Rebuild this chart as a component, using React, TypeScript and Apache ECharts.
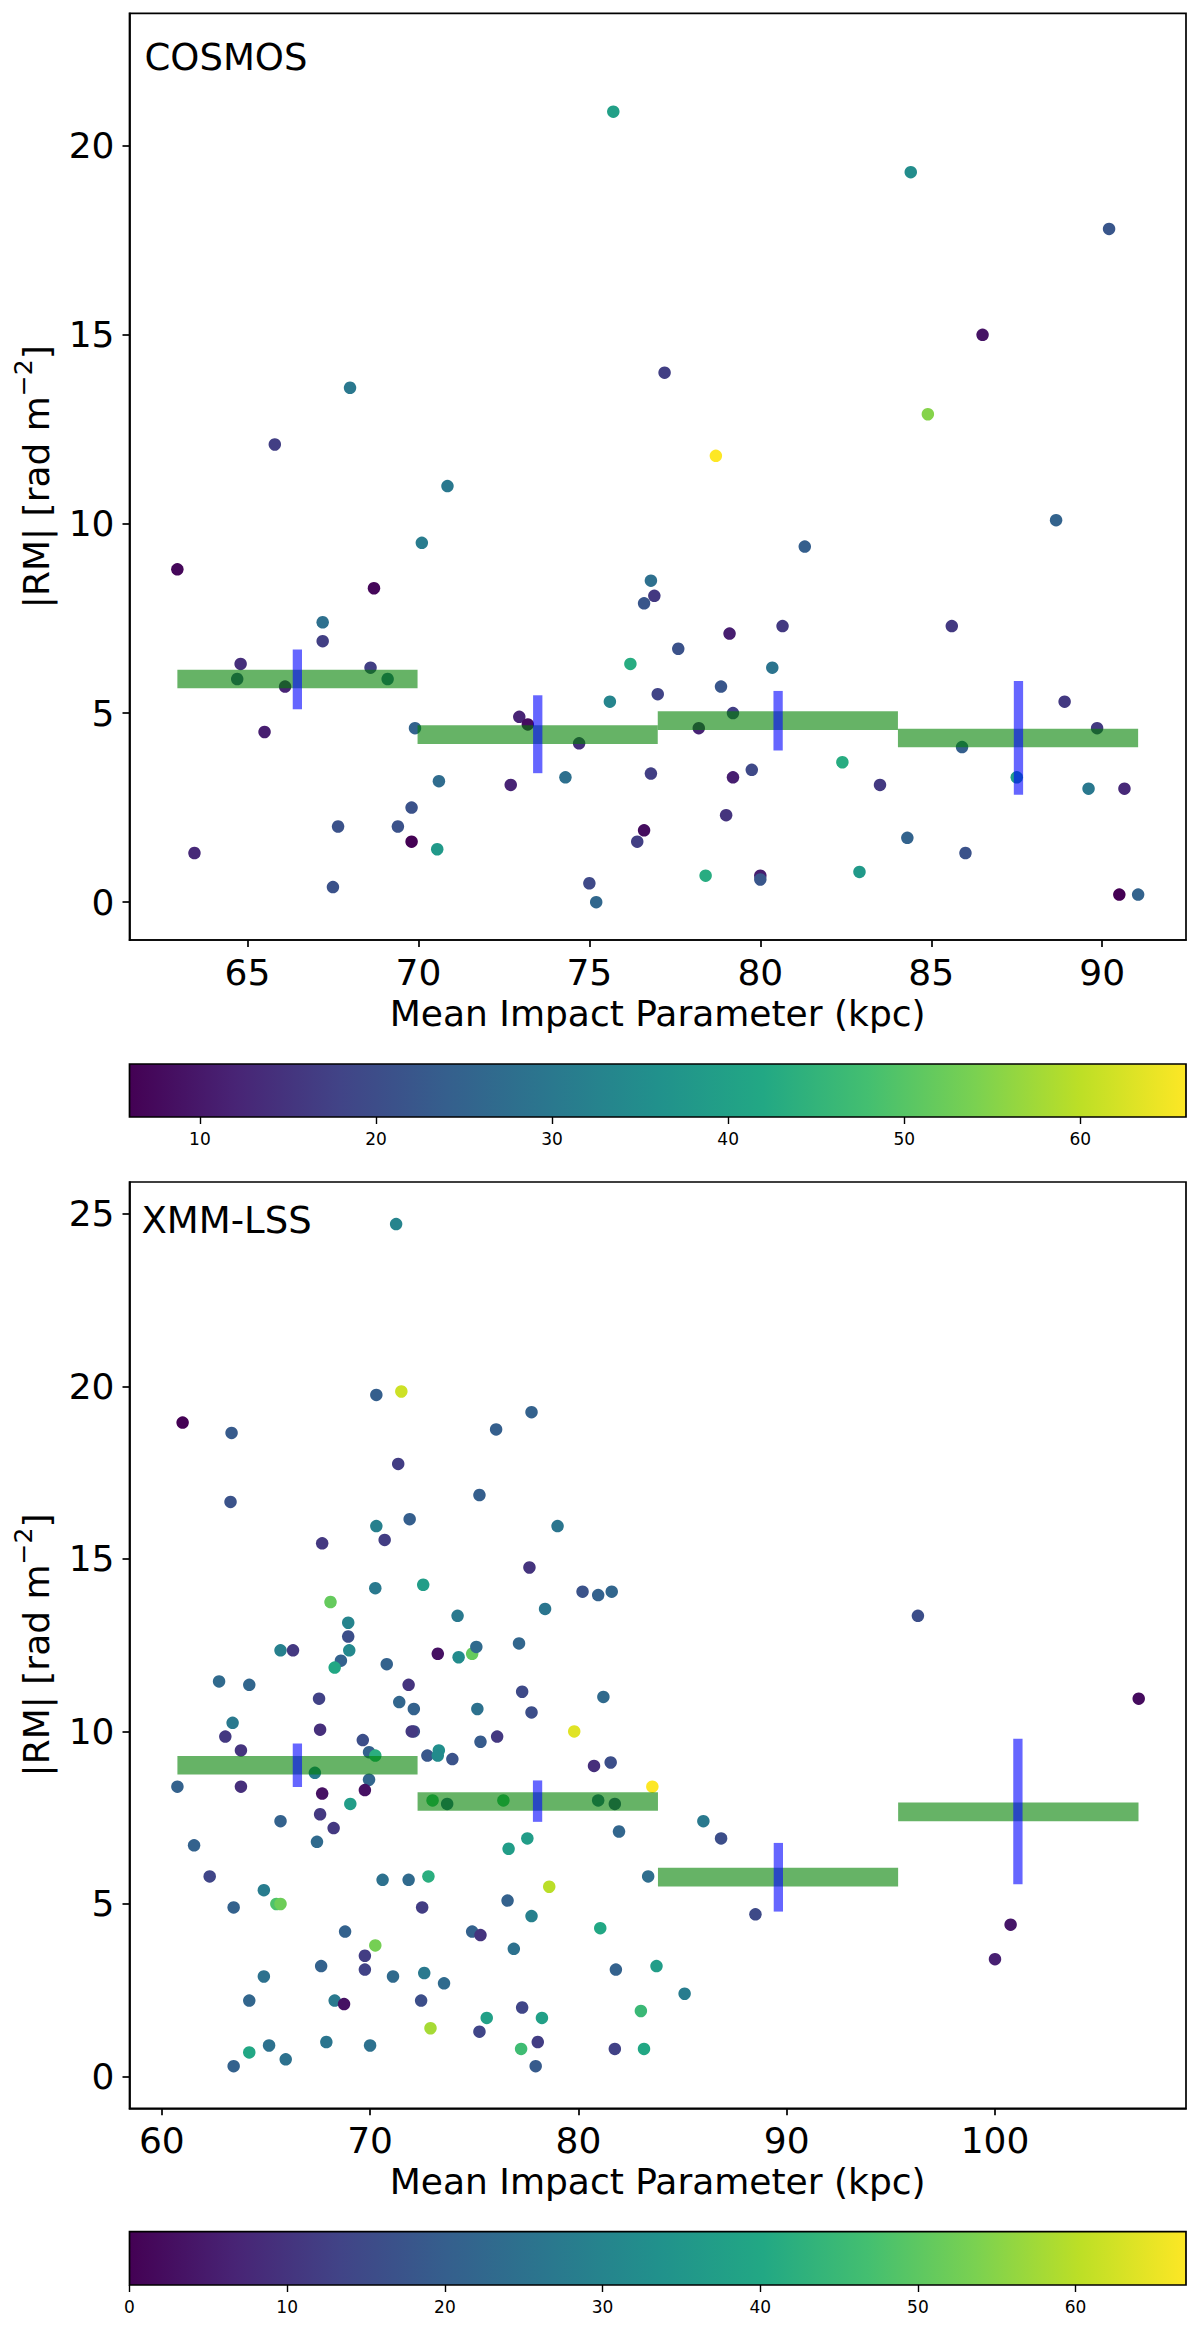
import { useEffect, useRef } from 'react';
import * as echarts from 'echarts';

const FONT = 'DejaVu Sans';

const viridis = [
  '#440154', '#482475', '#414487', '#355f8d', '#2a788e', '#21918c',
  '#22a884', '#44bf70', '#7ad151', '#bddf26', '#fde725',
];

// COSMOS points: impact parameter, |RM|, colour value
const cosmosX = [
  68.0, 65.8, 70.85, 75.7, 84.4, 90.2, 86.5, 77.2, 84.9, 78.7,
  70.1, 62.95, 68.7, 67.2, 67.2, 64.8, 64.7, 66.1, 68.6, 69.1,
  65.5, 69.9, 70.6, 69.8, 69.4, 69.8, 70.55, 67.65, 67.5, 63.45,
  72.95, 73.2, 74.7, 72.7, 74.3, 75.6, 76.2, 76.8, 76.9, 76.6,
  77.0, 76.8, 76.6, 76.4, 75.0, 75.2, 88.65, 81.3, 79.1, 80.65,
  85.6, 77.6, 80.35, 78.85, 79.2, 78.2, 79.2, 79.75, 79.0, 82.4,
  83.5, 85.9, 87.5, 88.9, 89.85, 89.6, 90.65, 84.3, 86.0, 82.9,
  78.4, 80.0, 80.0, 90.5, 91.05,
];
const cosmosRM = [
  13.6, 12.1, 11.0, 20.9, 19.3, 17.8, 15.0, 14.0, 12.9, 11.8,
  9.5, 8.8, 8.3, 7.4, 6.9, 6.3, 5.9, 5.7, 6.2, 5.9,
  4.5, 4.6, 3.2, 2.5, 2.0, 1.6, 1.4, 2.0, 0.4, 1.3,
  4.9, 4.7, 4.2, 3.1, 3.3, 5.3, 6.3, 8.5, 8.1, 7.9,
  5.5, 3.4, 1.9, 1.6, 0.5, 0.0, 10.1, 9.4, 7.1, 7.3,
  7.3, 6.7, 6.2, 5.7, 5.0, 4.6, 3.3, 3.5, 2.3, 3.7,
  3.1, 4.1, 3.3, 5.3, 4.6, 3.0, 3.0, 1.7, 1.3, 0.8,
  0.7, 0.7, 0.6, 0.2, 0.2,
];
const cosmosC = [
  30, 17, 30, 40, 35, 22, 9, 17, 55, 66,
  31, 7, 7, 28, 17, 14, 20, 12, 17, 25,
  11, 25, 27, 21, 21, 6, 38, 21, 21, 13,
  12, 8, 14, 12, 28, 33, 43, 28, 16, 22,
  18, 17, 8, 17, 19, 26, 25, 24, 11, 16,
  16, 21, 29, 22, 17, 12, 11, 19, 15, 43,
  16, 24, 40, 16, 16, 30, 13, 25, 21, 38,
  43, 11, 22, 6, 25,
];
const cosmosBinEdges = [62.95, 69.975, 77.0, 84.025, 91.05];
const cosmosBinRM = [5.9, 4.43, 4.8, 4.34];
const cosmosMeanX = [66.46, 73.49, 80.52, 87.55];
const cosmosErrLo = [5.1, 3.41, 4.01, 2.84];
const cosmosErrHi = [6.68, 5.47, 5.585, 5.85];

// XMM-LSS points
const xmmX = [
  71.25, 70.3, 71.5, 61.0, 63.35, 76.05, 71.35, 63.3, 75.25, 71.9,
  70.3, 70.7, 67.7, 70.25, 72.55, 68.1, 74.2, 68.95, 68.95, 65.7,
  66.3, 69.0, 68.6, 68.3, 73.25, 74.25, 74.9, 75.1, 77.15, 70.8,
  62.75, 64.2, 71.85, 67.55, 71.4, 72.1, 75.15, 77.3, 63.4, 63.05,
  67.6, 72.1, 72.0, 76.1, 63.8, 69.65, 75.3, 69.95, 70.25, 72.75,
  73.3, 73.25, 73.95, 60.75, 63.8, 67.35, 69.95, 67.7, 69.75, 69.05,
  73.0, 73.7, 76.4, 67.6, 68.25, 65.7, 61.55, 67.45, 76.65, 62.3,
  70.6, 71.85, 72.8, 64.9, 65.5, 65.7, 63.45, 72.5, 76.6,
  77.75, 79.0, 77.65, 80.2, 80.95, 81.6, 78.4, 77.75, 81.2, 79.8,
  80.75, 81.55, 83.55, 80.95, 81.75, 81.95, 86.0, 86.85, 77.55, 83.35,
  78.6, 77.75, 88.5, 96.3, 106.9,
  100.75, 100.0, 68.8, 70.25, 74.9, 75.3, 81.05, 76.9, 69.75, 67.65,
  69.75, 71.1, 72.6, 73.55, 64.9, 64.2, 68.3, 68.75, 72.45, 77.3,
  85.1, 83.0, 75.6, 78.25, 72.9, 75.25, 65.15, 64.2, 67.9, 70.0,
  65.95, 63.45, 77.25, 78.05, 77.95, 81.75, 83.15, 83.75, 81.8,
];
const xmmRM = [
  24.7, 19.75, 19.85, 18.95, 18.65, 18.75, 17.75, 16.65, 16.85, 16.15,
  15.95, 15.55, 15.45, 14.15, 14.25, 13.75, 13.35, 13.15, 12.75, 12.35,
  12.35, 12.35, 12.05, 11.85, 12.25, 12.15, 12.25, 12.45, 12.55, 11.95,
  11.45, 11.35, 11.35, 10.95, 10.85, 10.65, 10.65, 11.15, 10.25, 9.85,
  10.05, 10.0, 10.0, 9.85, 9.45, 9.75, 9.7, 9.4, 9.3, 9.3,
  9.45, 9.3, 9.2, 8.4, 8.4, 8.8, 8.6, 8.2, 8.3, 7.9,
  8.0, 7.9, 8.0, 7.6, 7.2, 7.4, 6.7, 6.8, 6.6, 5.8,
  5.7, 5.7, 5.8, 5.4, 5.0, 5.0, 4.9, 4.9, 5.1,
  19.25, 15.95, 14.75, 14.05, 13.95, 14.05, 13.55, 10.55, 11.0, 10.0,
  9.0, 9.1, 8.4, 8.0, 7.9, 7.1, 7.4, 6.9, 6.9, 5.8,
  5.5, 4.65, 4.7, 13.35, 10.95,
  4.4, 3.4, 4.2, 3.8, 4.2, 4.1, 4.3, 3.7, 3.5, 3.2,
  3.1, 2.9, 3.0, 2.7, 2.9, 2.2, 2.2, 2.1, 2.2, 2.0,
  2.4, 1.9, 1.7, 1.7, 1.4, 1.3, 0.9, 0.7, 1.0, 0.9,
  0.5, 0.3, 0.8, 1.0, 0.3, 0.8, 0.8, 3.2, 3.1,
];
const xmmC = [
  30, 20, 62, 0, 19, 20, 12, 17, 20, 20,
  29, 12, 11, 27, 37, 51, 27, 30, 16, 29,
  11, 31, 21, 40, 3, 32, 51, 23, 22, 21,
  23, 22, 10, 13, 22, 21, 25, 15, 27, 11,
  9, 15, 11, 11, 10, 16, 19, 21, 42, 18,
  33, 32, 17, 21, 9, 28, 22, 3, 3, 37,
  45, 20, 45, 11, 11, 21, 21, 23, 37, 14,
  25, 23, 42, 28, 48, 52, 21, 12, 21,
  21, 26, 10, 17, 21, 22, 26, 16, 23, 64,
  9, 16, 67, 20, 15, 22, 27, 16, 37, 24,
  60, 29, 15, 16, 2,
  4, 6, 21, 53, 21, 10, 40, 25, 12, 21,
  13, 23, 27, 23, 25, 22, 27, 3, 16, 14,
  28, 45, 38, 38, 58, 14, 25, 40, 26, 25,
  25, 21, 46, 12, 19, 13, 40, 37, 21,
];
const xmmBinEdges = [60.75, 72.28, 83.82, 95.35, 106.89];
const xmmBinRM = [9.02, 7.97, 5.78, 7.67];
const xmmMeanX = [66.51, 78.04, 89.6, 101.1];
const xmmErrLo = [8.39, 7.38, 4.78, 5.57];
const xmmErrHi = [9.65, 8.58, 6.77, 9.79];

// tick labels
const cosmosXTicks = [65, 70, 75, 80, 85, 90];
const cosmosYTicks = [0, 5, 10, 15, 20];
const cosmosCbarTicks = [10, 20, 30, 40, 50, 60];
const xmmXTicks = [60, 70, 80, 90, 100];
const xmmYTicks = [0, 5, 10, 15, 20, 25];
const xmmCbarTicks = [0, 10, 20, 30, 40, 50, 60];

const GRID_LEFT = 129.5;
const GRID_W = 1056.5;

export default function App() {
  const chartRef = useRef<HTMLDivElement>(null);

  useEffect(() => {
    document.body.style.margin = '0';
    if (!chartRef.current) return;
    const chart = echarts.init(chartRef.current, null, { renderer: 'svg' });

    const mainX = (idx: number, min: number, max: number, ticks: number[]) => ({
      type: 'value',
      gridIndex: idx,
      min,
      max,
      axisLine: { show: true, onZero: false, lineStyle: { color: '#000', width: 1.7 } },
      axisTick: { show: true, customValues: ticks, length: 7, lineStyle: { color: '#000', width: 1.7 } },
      axisLabel: { customValues: ticks, color: '#000', fontSize: 36, fontFamily: FONT, margin: 14 },
      splitLine: { show: false },
    });
    const mainY = (idx: number, min: number, max: number, ticks: number[]) => ({
      type: 'value',
      gridIndex: idx,
      min,
      max,
      axisLine: { show: true, onZero: false, lineStyle: { color: '#000', width: 1.7 } },
      axisTick: { show: true, customValues: ticks, length: 7, lineStyle: { color: '#000', width: 1.7 } },
      axisLabel: { customValues: ticks, color: '#000', fontSize: 36, fontFamily: FONT, margin: 15 },
      splitLine: { show: false },
    });
    const cbarX = (idx: number, min: number, max: number, ticks: number[]) => ({
      type: 'value',
      gridIndex: idx,
      min,
      max,
      axisLine: { show: false, onZero: false },
      axisTick: { show: true, customValues: ticks, length: 7, lineStyle: { color: '#000', width: 1.4 } },
      axisLabel: { customValues: ticks, color: '#000', fontSize: 17, fontFamily: FONT, margin: 13 },
      splitLine: { show: false },
    });
    const cbarY = (idx: number) => ({
      type: 'value',
      gridIndex: idx,
      min: 0,
      max: 1,
      show: false,
    });

    const binItem = (edges: number[], rm: number[]) =>
      rm.map((v, i) => [edges[i], edges[i + 1], v]);
    const errItem = (xs: number[], lo: number[], hi: number[]) =>
      xs.map((x, i) => [x, lo[i], hi[i]]);

    const binSeries = (idx: number, data: number[][]) => ({
      type: 'custom',
      xAxisIndex: idx,
      yAxisIndex: idx,
      z: 3,
      encode: { x: [0, 1], y: 2 },
      data,
      renderItem: (_p: any, api: any) => {
        const a = api.coord([api.value(0), api.value(2)]);
        const b = api.coord([api.value(1), api.value(2)]);
        return {
          type: 'rect',
          shape: { x: a[0], y: a[1] - 9.35, width: b[0] - a[0], height: 18.7 },
          style: { fill: 'rgba(0,128,0,0.6)' },
        };
      },
    });
    const errSeries = (idx: number, data: number[][]) => ({
      type: 'custom',
      xAxisIndex: idx,
      yAxisIndex: idx,
      z: 4,
      encode: { x: 0, y: [1, 2] },
      data,
      renderItem: (_p: any, api: any) => {
        const top = api.coord([api.value(0), api.value(2)]);
        const bot = api.coord([api.value(0), api.value(1)]);
        return {
          type: 'rect',
          shape: { x: top[0] - 4.65, y: top[1], width: 9.3, height: bot[1] - top[1] },
          style: { fill: 'rgba(0,0,255,0.6)' },
        };
      },
    });
    const cbarSeries = (idx: number, min: number, max: number) => ({
      type: 'custom',
      xAxisIndex: idx,
      yAxisIndex: idx,
      z: 1,
      data: [[min, max]],
      renderItem: (_p: any, api: any) => {
        const a = api.coord([api.value(0), 1]);
        const b = api.coord([api.value(1), 0]);
        return {
          type: 'rect',
          shape: { x: a[0], y: a[1], width: b[0] - a[0], height: b[1] - a[1] },
          style: {
            fill: new echarts.graphic.LinearGradient(
              0, 0, 1, 0,
              viridis.map((c, i) => ({ offset: i / (viridis.length - 1), color: c }))
            ),
          },
        };
      },
    });

    const textStyle = { fill: '#000', fontFamily: FONT };
    // y title with a raised, smaller exponent
    const yTitle = (y: number) => ({
      type: 'text',
      x: 36,
      y,
      rotation: Math.PI / 2,
      style: {
        ...textStyle,
        text: '{n||RM| [rad m}{sup|−2}{n|]}',
        fontSize: 36,
        textAlign: 'center',
        textVerticalAlign: 'middle',
        rich: {
          n: { fontSize: 36, lineHeight: 50, fontFamily: FONT, fill: '#000' },
          sup: { fontSize: 25, lineHeight: 26, verticalAlign: 'top', fontFamily: FONT, fill: '#000' },
        },
      },
    });

    const option = {
      animation: false,
      backgroundColor: '#fff',
      grid: [
        { left: GRID_LEFT, top: 13.3, width: GRID_W, height: 926.7, show: true, borderColor: '#000', borderWidth: 1.7 },
        { left: GRID_LEFT, top: 1064, width: GRID_W, height: 53, show: true, borderColor: '#000', borderWidth: 1.7, z: 5 },
        { left: GRID_LEFT, top: 1182, width: GRID_W, height: 926.3, show: true, borderColor: '#000', borderWidth: 1.7 },
        { left: GRID_LEFT, top: 2231.7, width: GRID_W, height: 53.3, show: true, borderColor: '#000', borderWidth: 1.7, z: 5 },
      ],
      xAxis: [
        mainX(0, 61.55, 92.45, cosmosXTicks),
        cbarX(1, 6, 66, cosmosCbarTicks),
        mainX(2, 58.45, 109.17, xmmXTicks),
        cbarX(3, 0, 67, xmmCbarTicks),
      ],
      yAxis: [
        mainY(0, -1, 23.5, cosmosYTicks),
        cbarY(1),
        mainY(2, -0.92, 25.92, xmmYTicks),
        cbarY(3),
      ],
      visualMap: [
        { type: 'continuous', show: false, seriesIndex: 0, dimension: 2, min: 6, max: 66, inRange: { color: viridis } },
        { type: 'continuous', show: false, seriesIndex: 3, dimension: 2, min: 0, max: 67, inRange: { color: viridis } },
      ],
      series: [
        {
          type: 'scatter',
          xAxisIndex: 0,
          yAxisIndex: 0,
          z: 2,
          symbolSize: 12.5,
          itemStyle: { opacity: 1, borderWidth: 0 },
          data: cosmosX.map((x, i) => [x, cosmosRM[i], cosmosC[i]]),
        },
        binSeries(0, binItem(cosmosBinEdges, cosmosBinRM)),
        errSeries(0, errItem(cosmosMeanX, cosmosErrLo, cosmosErrHi)),
        {
          type: 'scatter',
          xAxisIndex: 2,
          yAxisIndex: 2,
          z: 2,
          symbolSize: 12.5,
          itemStyle: { opacity: 1, borderWidth: 0 },
          data: xmmX.map((x, i) => [x, xmmRM[i], xmmC[i]]),
        },
        binSeries(2, binItem(xmmBinEdges, xmmBinRM)),
        errSeries(2, errItem(xmmMeanX, xmmErrLo, xmmErrHi)),
        cbarSeries(1, 6, 66),
        cbarSeries(3, 0, 67),
      ],
      graphic: [
        { type: 'text', x: 144.5, y: 57.5, style: { ...textStyle, text: 'COSMOS', fontSize: 37, textAlign: 'left', textVerticalAlign: 'middle' } },
        { type: 'text', x: 141.5, y: 1220.5, style: { ...textStyle, text: 'XMM-LSS', fontSize: 37, textAlign: 'left', textVerticalAlign: 'middle' } },
        { type: 'text', x: 657.7, y: 1013.5, style: { ...textStyle, text: 'Mean Impact Parameter (kpc)', fontSize: 36, textAlign: 'center', textVerticalAlign: 'middle' } },
        { type: 'text', x: 657.7, y: 2181.5, style: { ...textStyle, text: 'Mean Impact Parameter (kpc)', fontSize: 36, textAlign: 'center', textVerticalAlign: 'middle' } },
        yTitle(476.7),
        yTitle(1645),
      ],
    };

    chart.setOption(option as any);

    return () => {
      chart.dispose();
    };
  }, []);

  return <div ref={chartRef} style={{ width: 1200, height: 2331 }} />;
}
